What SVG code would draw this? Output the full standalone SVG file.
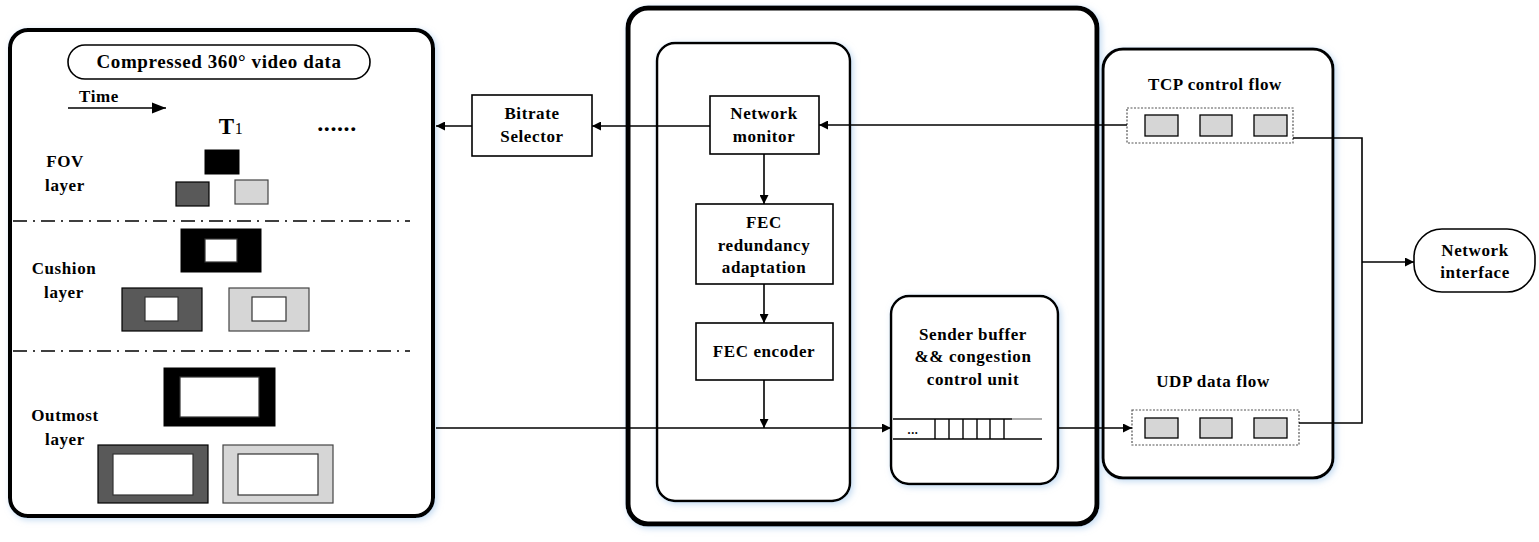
<svg xmlns="http://www.w3.org/2000/svg" width="1539" height="542" viewBox="0 0 1539 542">
<defs>
<style>
text{font-family:"Liberation Serif","Times New Roman",serif;font-weight:bold;fill:#000;text-anchor:middle;letter-spacing:0.6px}
.lbl{font-size:17px}
.box{fill:#fff;stroke:#000;stroke-width:1.6}
.cont{fill:#fff;stroke:#000}
.con{fill:none;stroke:#000;stroke-width:1.6}
.dd{fill:none;stroke:#000;stroke-width:1.6;stroke-dasharray:14 6 2 6}
.dot{fill:#fff;stroke:#555;stroke-width:1.2;stroke-dasharray:2 1.5}
.pkt{fill:#d6d6d6;stroke:#000;stroke-width:1.3}
.blk{fill:#000;stroke:#000}
.dk{fill:#595959;stroke:#000;stroke-width:1.2}
.lt{fill:#d6d6d6;stroke:#444;stroke-width:1.2}
.wh{fill:#fff;stroke:#333;stroke-width:1.2}
</style>
<filter id="glow" x="-10%" y="-10%" width="120%" height="120%">
<feDropShadow dx="2" dy="2" stdDeviation="3" flood-color="#9cc3e8" flood-opacity="0.6"/>
</filter>
<marker id="ah" viewBox="0 0 10 10" refX="10" refY="5" markerWidth="10" markerHeight="9" markerUnits="userSpaceOnUse" orient="auto">
<path d="M0,0 L10,5 L0,10 z" fill="#000"/>
</marker>
<marker id="ahs" viewBox="0 0 10 10" refX="10" refY="5" markerWidth="9" markerHeight="9" orient="auto">
<path d="M0,1 L10,5 L0,9 z" fill="#000"/>
</marker>
</defs>
<rect width="1539" height="542" fill="#fff"/>

<g id="video-panel">
<rect x="10" y="30" width="423" height="486" rx="18" class="cont" stroke-width="4" filter="url(#glow)"/>
<rect x="68" y="45" width="302" height="34" rx="17" class="box"/>
<text x="219" y="68" font-size="19">Compressed 360° video data</text>
<text x="99" y="102" class="lbl">Time</text>
<line x1="68" y1="108" x2="166" y2="108" stroke="#000" stroke-width="1.6" marker-end="url(#ahs)"/>
<text x="231" y="134" font-size="23" text-anchor="start">T<tspan font-size="16" font-weight="normal">1</tspan></text>
<text x="337" y="131" font-size="24" letter-spacing="0">......</text>
<text x="65" y="167" class="lbl">FOV</text>
<text x="65" y="191" class="lbl">layer</text>
<rect x="205" y="150" width="34" height="24" class="blk"/>
<rect x="176" y="182" width="33" height="24" class="dk"/>
<rect x="235" y="180" width="33" height="24" class="lt"/>
<line x1="13" y1="221" x2="410" y2="221" class="dd"/>
<text x="64" y="274" class="lbl">Cushion</text>
<text x="64" y="298" class="lbl">layer</text>
<rect x="181" y="229" width="80" height="43" class="blk"/>
<rect x="205" y="239" width="32" height="23" class="wh"/>
<rect x="122" y="288" width="80" height="43" class="dk"/>
<rect x="145" y="297" width="33" height="24" class="wh"/>
<rect x="229" y="288" width="80" height="43" class="lt"/>
<rect x="252" y="297" width="34" height="24" class="wh"/>
<line x1="13" y1="351" x2="410" y2="351" class="dd"/>
<text x="65" y="421" class="lbl">Outmost</text>
<text x="65" y="445" class="lbl">layer</text>
<rect x="164" y="368" width="111" height="58" class="blk"/>
<rect x="180" y="377" width="79" height="40" class="wh"/>
<rect x="98" y="445" width="110" height="58" class="dk"/>
<rect x="113" y="454" width="80" height="41" class="wh"/>
<rect x="223" y="445" width="110" height="58" class="lt"/>
<rect x="238" y="454" width="80" height="41" class="wh"/>
</g>

<g id="bitrate-selector">
<rect x="472" y="95" width="120" height="61" class="box"/>
<text x="532" y="119" class="lbl">Bitrate</text>
<text x="532" y="142" class="lbl">Selector</text>
</g>

<g id="sender-panel">
<rect x="628" y="8" width="469" height="516" rx="20" class="cont" stroke-width="5" filter="url(#glow)"/>
<rect x="657" y="43" width="193" height="458" rx="18" class="cont" stroke-width="2.5" filter="url(#glow)"/>
</g>

<g id="network-monitor">
<rect x="710" y="96" width="109" height="58" class="box"/>
<text x="764" y="119" class="lbl">Network</text>
<text x="764" y="142" class="lbl">monitor</text>
</g>

<g id="fec-redundancy">
<rect x="696" y="204" width="137" height="80" class="box"/>
<text x="764" y="228" class="lbl">FEC</text>
<text x="764" y="251" class="lbl">redundancy</text>
<text x="764" y="273" class="lbl">adaptation</text>
</g>

<g id="fec-encoder">
<rect x="696" y="323" width="137" height="57" class="box"/>
<text x="764" y="357" class="lbl">FEC encoder</text>
</g>

<g id="sender-buffer">
<rect x="891" y="296" width="167" height="188" rx="18" class="cont" stroke-width="2.5" filter="url(#glow)"/>
<text x="973" y="340" class="lbl">Sender buffer</text>
<text x="973" y="362" class="lbl">&amp;&amp; congestion</text>
<text x="973" y="385" class="lbl">control unit</text>
<line x1="893" y1="419" x2="1012" y2="419" stroke="#000" stroke-width="1.4"/>
<line x1="1012" y1="419" x2="1042" y2="419" stroke="#888" stroke-width="1.4"/>
<line x1="893" y1="439" x2="1042" y2="439" stroke="#000" stroke-width="1.4"/>
<g stroke="#000" stroke-width="1.4">
<line x1="935" y1="419" x2="935" y2="439"/>
<line x1="949" y1="419" x2="949" y2="439"/>
<line x1="963" y1="419" x2="963" y2="439"/>
<line x1="977" y1="419" x2="977" y2="439"/>
<line x1="990" y1="419" x2="990" y2="439"/>
<line x1="1004" y1="419" x2="1004" y2="439"/>
</g>
<text x="913" y="434" font-size="12">...</text>
</g>

<g id="transport-panel">
<rect x="1103" y="49" width="230" height="429" rx="20" class="cont" stroke-width="3" filter="url(#glow)"/>
</g>

<g id="tcp-flow">
<text x="1215" y="90" class="lbl">TCP control flow</text>
<rect x="1127" y="108" width="166" height="35" class="dot"/>
<rect x="1145" y="115" width="33" height="21" class="pkt"/>
<rect x="1200" y="115" width="32" height="21" class="pkt"/>
<rect x="1254" y="115" width="33" height="21" class="pkt"/>
</g>

<g id="udp-flow">
<text x="1213" y="387" class="lbl">UDP data flow</text>
<rect x="1132" y="410" width="167" height="35" class="dot"/>
<rect x="1145" y="418" width="33" height="20" class="pkt"/>
<rect x="1200" y="418" width="32" height="20" class="pkt"/>
<rect x="1254" y="418" width="33" height="20" class="pkt"/>
</g>

<g id="network-interface">
<rect x="1414" y="229" width="121" height="63" rx="28" class="box"/>
<text x="1475" y="256" class="lbl">Network</text>
<text x="1475" y="278" class="lbl">interface</text>
</g>

<g id="connectors">
<line x1="1127" y1="125" x2="819" y2="125" class="con" marker-end="url(#ah)"/>
<line x1="710" y1="126" x2="592" y2="126" class="con" marker-end="url(#ah)"/>
<line x1="472" y1="126" x2="436" y2="126" class="con" marker-end="url(#ah)"/>
<line x1="764" y1="154" x2="764" y2="204" class="con" marker-end="url(#ah)"/>
<line x1="764" y1="284" x2="764" y2="323" class="con" marker-end="url(#ah)"/>
<line x1="764" y1="380" x2="764" y2="428" class="con" marker-end="url(#ah)"/>
<line x1="436" y1="428" x2="891" y2="428" class="con" marker-end="url(#ah)"/>
<line x1="1058" y1="428" x2="1132" y2="428" class="con" marker-end="url(#ah)"/>
<polyline points="1293,138 1362,138 1362,423 1299,423" class="con"/>
<line x1="1362" y1="262" x2="1414" y2="262" class="con" marker-end="url(#ah)"/>
</g>
</svg>
